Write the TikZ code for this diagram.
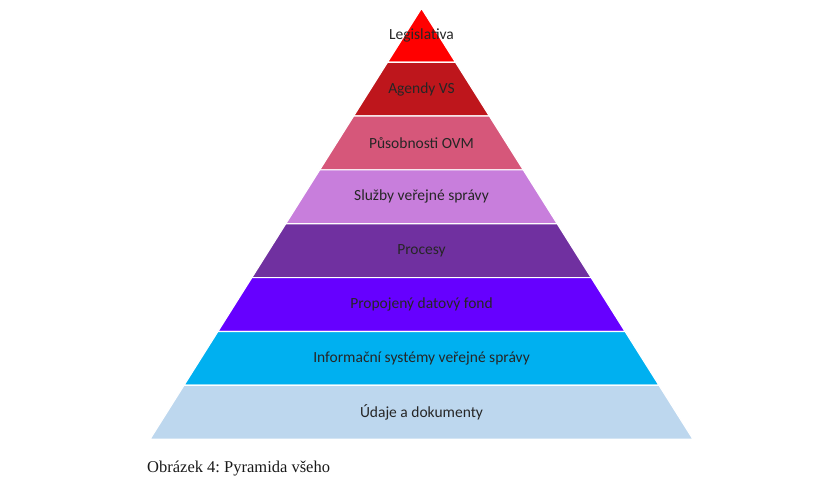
\documentclass[tikz,border=0pt]{standalone}
\usepackage{fontspec}
\setmainfont{Carlito}
\newfontfamily\capfont{Liberation Serif}
\frenchspacing
\definecolor{lay1}{HTML}{FF0000}
\definecolor{lay2}{HTML}{BE161C}
\definecolor{lay3}{HTML}{D6577A}
\definecolor{lay4}{HTML}{C87EDC}
\definecolor{lay5}{HTML}{7030A0}
\definecolor{lay6}{HTML}{6600FF}
\definecolor{lay7}{HTML}{00B0F0}
\definecolor{lay8}{HTML}{BDD7EE}
\definecolor{txtcol}{HTML}{262626}
\tikzset{
  layerlabel/.style={text=txtcol, font=\fontsize{15.5}{18}\selectfont, inner sep=0pt, anchor=center},
  layerfill/.style={fill=#1, draw=white, line width=1.2pt, line join=miter},
  caption/.style={font=\capfont\fontsize{16.5}{19}\selectfont, text=black!90, anchor=base west, inner sep=0pt}
}
\begin{document}
\begin{tikzpicture}[x=1pt,y=1pt]
\useasboundingbox (0,0) rectangle (840,480);
\def\ax{421.5}
\def\ay{471.7}
\def\hh{53.86}
\def\kk{0.6300}
\foreach \i/\col/\txt/\nm in {0/lay1/Legislativa/legis,
  1/lay2/Agendy VS/agendy,
  2/lay3/Působnosti OVM/pusob,
  3/lay4/Služby veřejné správy/sluzby,
  4/lay5/Procesy/procesy,
  5/lay6/Propojený datový fond/fond,
  6/lay7/Informační systémy veřejné správy/isvs,
  7/lay8/Údaje a dokumenty/udaje} {
  \pgfmathsetmacro\yt{\ay-\i*\hh}
  \pgfmathsetmacro\yb{\ay-(\i+1)*\hh}
  \pgfmathsetmacro\wt{\i*\hh*\kk}
  \pgfmathsetmacro\wb{(\i+1)*\hh*\kk}
  \pgfmathsetmacro\ym{(\yt+\yb)/2}
  \path[layerfill=\col] (\ax-\wt,\yt) -- (\ax+\wt,\yt) -- (\ax+\wb,\yb) -- (\ax-\wb,\yb) -- cycle;
  \node[layerlabel] (\nm) at (\ax,\ym) {\txt};
}
\node[caption] (cap) at (147,8) {Obrázek 4: Pyramida všeho};
\end{tikzpicture}
\end{document}
